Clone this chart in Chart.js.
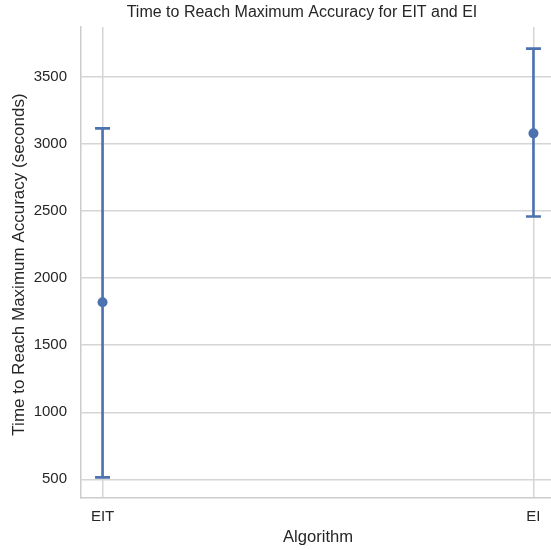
<!DOCTYPE html>
<html>
<head>
<meta charset="utf-8">
<script src="https://cdn.jsdelivr.net/npm/chart.js@4"></script>
<style>
  html, body { margin: 0; padding: 0; background: #fff; overflow: hidden; }
  #wrap { width: 560px; height: 550px; }
</style>
</head>
<body>
<div id="wrap"><canvas id="chartTime" width="560" height="550"></canvas></div>
<script>
// values
const algorithms = ['EIT', 'EI'];
const meanTime = [1820, 3080];
const lowerTime = [515, 2460];
const upperTime = [3117, 3712];
const yTicks = [500, 1000, 1500, 2000, 2500, 3000, 3500];

const blue = '#4c72b0';
const textColor = '#262626';
const fontFamily = '"Liberation Sans", Arial, sans-serif';

// error bars, drawn through the chart scales
const errorBars = {
	id: 'errorBars',
	beforeDatasetsDraw(chart) {
		const ctx = chart.ctx;
		const xs = chart.scales.x, ys = chart.scales.y;
		ctx.save();
		ctx.strokeStyle = blue;
		ctx.lineWidth = 2.6;
		algorithms.forEach((a, i) => {
			const x = xs.getPixelForValue(i);
			const y0 = ys.getPixelForValue(lowerTime[i]);
			const y1 = ys.getPixelForValue(upperTime[i]);
			ctx.beginPath();
			ctx.moveTo(x, y0); ctx.lineTo(x, y1);
			ctx.moveTo(x - 7.5, y0); ctx.lineTo(x + 7.5, y0);
			ctx.moveTo(x - 7.5, y1); ctx.lineTo(x + 7.5, y1);
			ctx.stroke();
		});
		ctx.restore();
	}
};

// matplotlib-style title and y label
const labels = {
	id: 'labels',
	afterDraw(chart) {
		const ctx = chart.ctx;
		const area = chart.chartArea;
		ctx.save();
		ctx.fillStyle = textColor;
		ctx.textAlign = 'center';
		ctx.textBaseline = 'middle';
		ctx.font = '16px ' + fontFamily;
		ctx.fillText('Time to Reach Maximum Accuracy for EIT and EI', (area.left + area.right) / 2 - 16, 13);
		ctx.font = '17px ' + fontFamily;
		ctx.translate(19, (area.top + area.bottom) / 2 + 2);
		ctx.rotate(-Math.PI / 2);
		ctx.fillText('Time to Reach Maximum Accuracy (seconds)', 0, 0);
		ctx.restore();
	}
};

const config = {
	type: 'line',
	data: {
		datasets: [
		{
			label: 'Time',
			data: meanTime.map((v, i) => ({x: i, y: v})),
			showLine: false,
			pointRadius: 5,
			pointHoverRadius: 5,
			pointBackgroundColor: blue,
			pointBorderColor: blue,
			pointBorderWidth: 0
		}
		]
	},
	options: {
		responsive: false,
		animation: false,
		events: [],
		layout: { padding: { top: 27, right: 4, left: 0, bottom: 0 } },
		plugins: {
			legend: { display: false },
			tooltip: { enabled: false },
			title: { display: false }
		},
		scales: {
			x: {
				type: 'linear',
				min: -0.05,
				max: 1.05,
				afterBuildTicks: (s) => { s.ticks = algorithms.map((a, i) => ({value: i})); },
				afterFit: (s) => { s.height = 52; },
				ticks: {
					callback: (v) => algorithms[v],
					color: textColor,
					font: { family: fontFamily, size: 15 },
					padding: 10,
					maxRotation: 0
				},
				grid: { color: '#d5d5d5', lineWidth: 1.5, drawTicks: false },
				border: { color: '#cccccc', width: 1.5 },
				title: {
					display: true,
					text: 'Algorithm',
					color: textColor,
					font: { family: fontFamily, size: 16.6 },
					padding: { top: 0, bottom: 3 }
				}
			},
			y: {
				min: 361,
				max: 3873,
				afterBuildTicks: (s) => { s.ticks = yTicks.map(v => ({value: v})); },
				afterFit: (s) => { s.width = 81; },
				ticks: {
					callback: (v) => String(v),
					color: textColor,
					font: { family: fontFamily, size: 15 },
					padding: 14
				},
				grid: { color: '#d5d5d5', lineWidth: 1.5, drawTicks: false },
				border: { color: '#cccccc', width: 1.5 }
			}
		}
	},
	plugins: [errorBars, labels]
};

const ctxTime = document.getElementById('chartTime').getContext('2d');
window.myChart = new Chart(ctxTime, config);
</script>
</body>
</html>
